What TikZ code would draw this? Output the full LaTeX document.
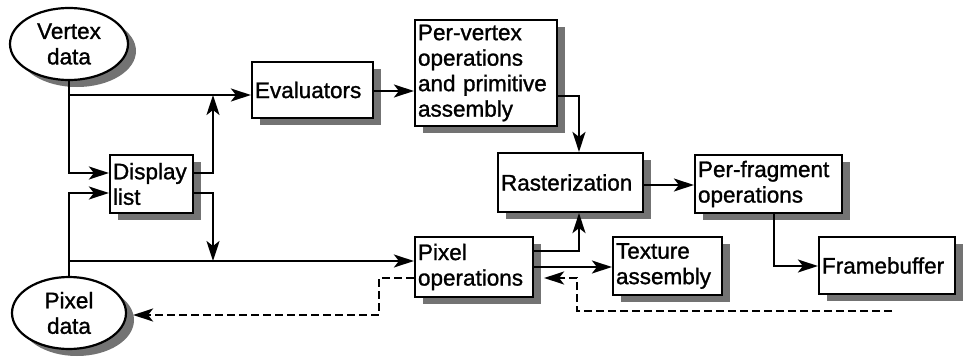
\documentclass[tikz,border=0pt]{standalone}
\usepackage{fontspec}
\setmainfont[FakeBold=1.2]{Liberation Sans}
\usetikzlibrary{arrows.meta,shapes.geometric,shadows}
\begin{document}
\begin{tikzpicture}[x=1pt,y=-1pt,
  every node/.style={font=\fontsize{22.5}{25.5}\selectfont},
  shd/.style={drop shadow={shadow xshift=8pt,shadow yshift=-7pt,fill=black!55,opacity=1}},
  bx/.style={draw=black,line width=2.2pt,fill=white,shd,rectangle,inner xsep=3pt,inner ysep=0pt,align=left},
  el/.style={draw=black,line width=2.2pt,fill=white,shd,ellipse,inner sep=0pt,align=center},
  con/.style={line width=2.2pt,-{Stealth[length=20pt,width=13pt,inset=5pt]}},
  dsh/.style={dash pattern=on 8pt off 4pt}]
\useasboundingbox (0,0) rectangle (963,356);
\node[el,minimum width=118pt,minimum height=72pt] (vtx) at (69,44) {Vertex\\data};
\node[el,minimum width=114pt,minimum height=72pt] (pxd) at (69,313) {Pixel\\data};
\node[bx,minimum width=121pt,minimum height=56pt,text width=115pt] (eval) at (312.5,90) {Evaluators};
\node[bx,minimum width=142pt,minimum height=106pt,text width=136pt] (pv) at (486,73) {Per-vertex\\operations\\and primitive\\assembly};
\node[bx,minimum width=83pt,minimum height=58pt,text width=77pt] (disp) at (151.5,184) {Display\\list};
\node[bx,minimum width=145pt,minimum height=59pt,text width=139pt] (rast) at (570.5,182.5) {Rasterization};
\node[bx,minimum width=147pt,minimum height=58pt,text width=141pt] (pf) at (768.5,184) {Per-fragment\\operations};
\node[bx,minimum width=118pt,minimum height=60pt,text width=112pt] (pix) at (474,267) {Pixel\\operations};
\node[bx,minimum width=109pt,minimum height=58pt,text width=103pt] (tex) at (667.5,266) {Texture\\assembly};
\node[bx,minimum width=136pt,minimum height=57pt,text width=130pt] (fb) at (887,265.5) {Framebuffer};
\coordinate (vj) at (69,95);
\coordinate (pj) at (69,261);
\coordinate (dend) at (892,311);
\draw[con] (vtx.south) |- (disp.west |- 0,173);
\draw[con] (vj) -- (eval.west |- vj);
\draw[con] (disp.east |- 0,173) -| (213,95);
\draw[con] (disp.east |- 0,193) -| (213,261);
\draw[con] (pxd.north) |- (disp.west |- 0,193);
\draw[con] (pj) -- (pix.west |- pj);
\draw[con] (eval.east |- 0,91) -- (pv.west |- 0,91);
\draw[con] (pv.east |- 0,96) -| (579,0 |- rast.north);
\draw[con] (rast.east |- 0,185) -- (pf.west |- 0,185);
\draw[con] (774,0 |- pf.south) |- (fb.west |- 0,266);
\draw[con] (pix.east |- 0,251) -| (579,0 |- rast.south);
\draw[con] (pix.east |- 0,267) -- (tex.west |- 0,267);
\draw[con,dsh] (dend) -| (577,278) -- ([xshift=10pt]pix.east |- 0,278);
\draw[con,dsh] (pix.west |- 0,278) -| (379,315) -- ([xshift=6pt]pxd.east |- 0,315);
\end{tikzpicture}
\end{document}
